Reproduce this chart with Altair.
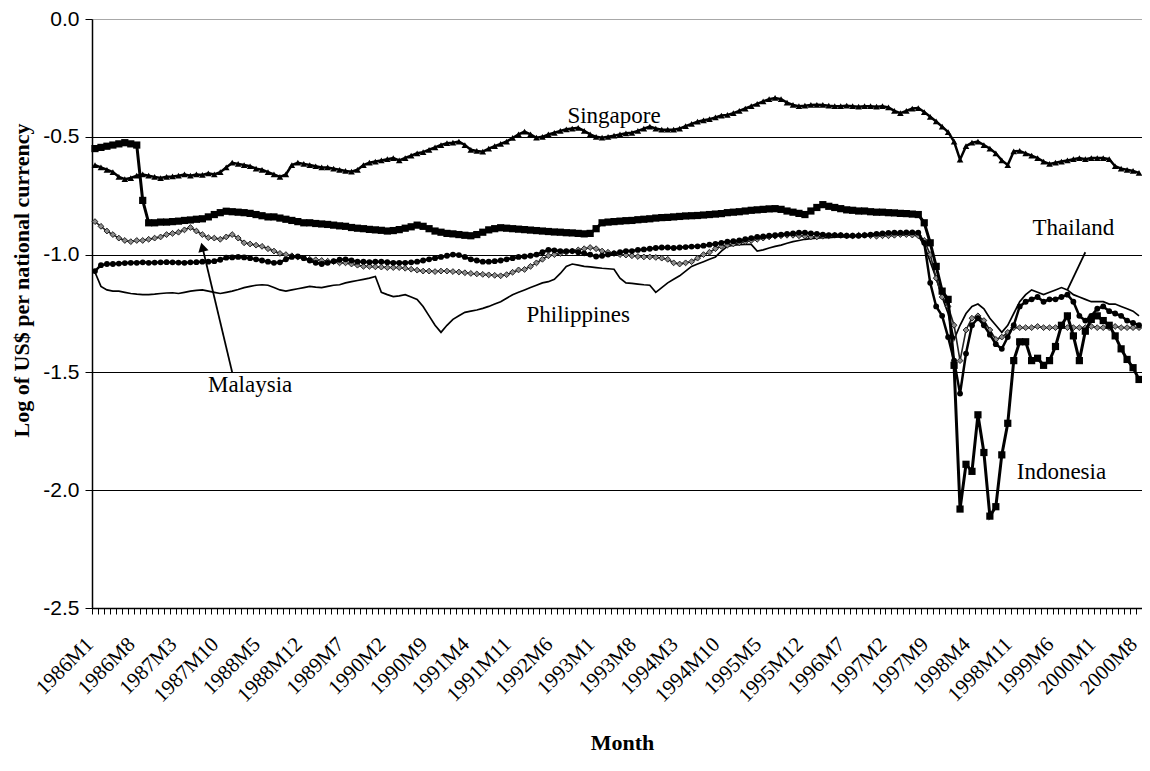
import altair as alt
import pandas as pd

# ---------------- data ----------------
MONTHS = [f"{y}M{m}" for y in range(1986, 2001) for m in range(1, 13)][:176]

TICK_LABELS = ["1986M1", "1986M8", "1987M3", "1987M10", "1988M5", "1988M12",
               "1989M7", "1990M2", "1990M9", "1991M4", "1991M11", "1992M6",
               "1993M1", "1993M8", "1994M3", "1994M10", "1995M5", "1995M12",
               "1996M7", "1997M2", "1997M9", "1998M4", "1998M11", "1999M6",
               "2000M1", "2000M8"]

Y_TICKS = [0.0, -0.5, -1.0, -1.5, -2.0, -2.5]

SINGAPORE = [
    -0.62, -0.63, -0.64, -0.65, -0.67, -0.68, -0.675, -0.665, -0.66, -0.665, -0.67, -0.675,
    -0.67, -0.668, -0.665, -0.66, -0.665, -0.66, -0.662, -0.655, -0.66, -0.65, -0.63, -0.61,
    -0.615, -0.62, -0.625, -0.635, -0.64, -0.65, -0.66, -0.67, -0.66, -0.62, -0.61, -0.615,
    -0.62, -0.625, -0.63, -0.63, -0.635, -0.64, -0.645, -0.648, -0.64, -0.62, -0.61, -0.605,
    -0.60, -0.595, -0.59, -0.60, -0.59, -0.58, -0.57, -0.565, -0.555, -0.545, -0.535, -0.527,
    -0.525, -0.52, -0.535, -0.555, -0.56, -0.563, -0.55, -0.54, -0.53, -0.52, -0.505, -0.49,
    -0.478, -0.49, -0.504, -0.50, -0.49, -0.483, -0.475, -0.468, -0.465, -0.462, -0.475, -0.49,
    -0.50, -0.504, -0.50, -0.495, -0.49, -0.485, -0.483, -0.475, -0.465, -0.457, -0.465, -0.47,
    -0.47, -0.47, -0.465, -0.455, -0.445, -0.436, -0.43, -0.425, -0.418, -0.41, -0.407, -0.40,
    -0.39, -0.38, -0.37, -0.36, -0.35, -0.34, -0.335, -0.34, -0.355, -0.365, -0.37, -0.368,
    -0.365, -0.364, -0.365, -0.368, -0.37, -0.37, -0.368, -0.37, -0.372, -0.37, -0.37, -0.372,
    -0.37, -0.375, -0.39, -0.40, -0.39, -0.38, -0.378, -0.395, -0.415, -0.435, -0.457, -0.48,
    -0.52, -0.597, -0.54, -0.525, -0.52, -0.535, -0.55, -0.57, -0.60, -0.62, -0.562, -0.56,
    -0.57, -0.58, -0.59, -0.605, -0.615, -0.61, -0.605, -0.60, -0.595, -0.59, -0.595, -0.59,
    -0.59, -0.59, -0.595, -0.625, -0.635, -0.64, -0.645, -0.653,
]

INDONESIA = [
    -0.55, -0.545, -0.54, -0.535, -0.53, -0.525, -0.53, -0.535, -0.77, -0.865, -0.865, -0.862,
    -0.862, -0.86, -0.858, -0.855, -0.853, -0.85, -0.848, -0.84, -0.83, -0.822, -0.816, -0.818,
    -0.82, -0.822, -0.825, -0.83, -0.835, -0.84, -0.84, -0.845, -0.85, -0.855, -0.86, -0.865,
    -0.865, -0.868, -0.87, -0.872, -0.875, -0.878, -0.88, -0.885, -0.888, -0.89, -0.893, -0.895,
    -0.897, -0.90, -0.898, -0.894, -0.888, -0.882, -0.875, -0.88, -0.89, -0.90, -0.905, -0.91,
    -0.912, -0.915, -0.918, -0.92, -0.915, -0.905, -0.895, -0.89, -0.886, -0.888, -0.89, -0.892,
    -0.894, -0.896, -0.898, -0.90, -0.902, -0.904, -0.905, -0.907, -0.908, -0.91, -0.912, -0.91,
    -0.89, -0.865, -0.862, -0.86, -0.858, -0.856, -0.855, -0.852, -0.85, -0.848, -0.845, -0.843,
    -0.842, -0.84, -0.838, -0.836, -0.835, -0.834, -0.832, -0.83, -0.828, -0.826, -0.822, -0.82,
    -0.818, -0.815, -0.812, -0.81, -0.808, -0.806, -0.805, -0.808, -0.815, -0.82, -0.825, -0.83,
    -0.815, -0.80, -0.788, -0.795, -0.80, -0.805, -0.81, -0.812, -0.815, -0.815, -0.818, -0.82,
    -0.82, -0.822, -0.823, -0.825, -0.826, -0.828, -0.83, -0.865, -0.95, -1.05, -1.155, -1.19,
    -1.47, -2.08, -1.89, -1.92, -1.68, -1.84, -2.11, -2.07, -1.85, -1.716, -1.45, -1.37,
    -1.37, -1.45, -1.44, -1.47, -1.45, -1.39, -1.30, -1.26, -1.345, -1.45, -1.325, -1.275,
    -1.26, -1.28, -1.30, -1.345, -1.40, -1.445, -1.48, -1.53,
]

THAILAND = [
    -1.07, -1.045, -1.04, -1.04, -1.038, -1.036, -1.035, -1.035, -1.033, -1.035, -1.034, -1.033,
    -1.032, -1.033, -1.034, -1.035, -1.033, -1.032, -1.03, -1.03, -1.028, -1.022, -1.013, -1.012,
    -1.01, -1.012, -1.015, -1.02, -1.025, -1.03, -1.035, -1.033, -1.02, -1.01, -1.008, -1.015,
    -1.025, -1.035, -1.04, -1.035, -1.028, -1.022, -1.02, -1.025, -1.03, -1.03, -1.032, -1.03,
    -1.03, -1.032, -1.035, -1.035, -1.035, -1.033, -1.03, -1.025, -1.02, -1.015, -1.01, -1.005,
    -1.00, -1.002, -1.01, -1.02, -1.025, -1.03, -1.03, -1.028, -1.025, -1.02, -1.015, -1.01,
    -1.008, -1.005, -1.00, -0.99, -0.98, -0.982, -0.985, -0.985, -0.985, -0.99, -0.995, -1.00,
    -1.008, -1.005, -1.00, -0.995, -0.99, -0.985, -0.985, -0.98, -0.978, -0.975, -0.972, -0.97,
    -0.97, -0.972, -0.97, -0.968, -0.966, -0.965, -0.962, -0.958, -0.955, -0.95, -0.945, -0.943,
    -0.94, -0.935, -0.93, -0.925, -0.923, -0.92, -0.918, -0.915, -0.912, -0.91, -0.907, -0.907,
    -0.91, -0.912, -0.915, -0.917, -0.917, -0.918, -0.92, -0.92, -0.92, -0.918, -0.915, -0.912,
    -0.91, -0.908, -0.907, -0.907, -0.906, -0.906, -0.907, -0.95, -1.12, -1.22, -1.26, -1.35,
    -1.45, -1.59, -1.42, -1.30, -1.27, -1.30, -1.34, -1.38, -1.40, -1.35, -1.30, -1.22,
    -1.20, -1.19, -1.18, -1.20, -1.19, -1.19, -1.18, -1.17, -1.20, -1.26, -1.28, -1.26,
    -1.23, -1.22, -1.24, -1.25, -1.26, -1.28, -1.29, -1.30,
]

MALAYSIA = [
    -0.86, -0.88, -0.90, -0.915, -0.93, -0.94, -0.945, -0.94, -0.94, -0.935, -0.93, -0.925,
    -0.915, -0.91, -0.905, -0.895, -0.885, -0.90, -0.915, -0.928, -0.93, -0.935, -0.925, -0.915,
    -0.93, -0.95, -0.955, -0.96, -0.965, -0.975, -0.985, -0.995, -1.00, -1.005, -1.01, -1.015,
    -1.02, -1.022, -1.025, -1.028, -1.03, -1.035, -1.035, -1.04, -1.045, -1.05, -1.05, -1.052,
    -1.053, -1.055, -1.055, -1.055, -1.058, -1.062, -1.066, -1.07, -1.07, -1.072, -1.07, -1.07,
    -1.072, -1.074, -1.077, -1.08, -1.082, -1.084, -1.086, -1.088, -1.09, -1.085, -1.075, -1.065,
    -1.063, -1.05, -1.035, -1.02, -1.005, -1.00, -0.995, -0.99, -0.985, -0.98, -0.975, -0.97,
    -0.975, -0.985, -0.99, -0.995, -1.00, -1.002, -1.005, -1.008, -1.01, -1.01, -1.012, -1.015,
    -1.02, -1.035, -1.04, -1.035, -1.03, -1.015, -1.00, -0.99, -0.975, -0.965, -0.96, -0.955,
    -0.95, -0.945, -0.94, -0.935, -0.93, -0.925, -0.922, -0.92, -0.918, -0.918, -0.92, -0.922,
    -0.925, -0.925, -0.922, -0.92, -0.918, -0.918, -0.92, -0.92, -0.918, -0.918, -0.92, -0.922,
    -0.92, -0.92, -0.918, -0.915, -0.915, -0.917, -0.92, -0.94, -1.00, -1.10, -1.18, -1.22,
    -1.30, -1.45, -1.32, -1.27, -1.26, -1.28, -1.32, -1.36, -1.35, -1.33, -1.31, -1.31,
    -1.31, -1.31, -1.305, -1.31, -1.31, -1.31, -1.305, -1.31, -1.31, -1.31, -1.31, -1.305,
    -1.31, -1.31, -1.31, -1.305, -1.31, -1.31, -1.31, -1.31,
]

PHILIPPINES = [
    -1.075, -1.135, -1.15, -1.155, -1.155, -1.16, -1.165, -1.168, -1.17, -1.17, -1.168, -1.165,
    -1.163, -1.162, -1.165, -1.16, -1.155, -1.152, -1.15, -1.155, -1.16, -1.165, -1.16, -1.155,
    -1.148, -1.14, -1.135, -1.13, -1.128, -1.13, -1.14, -1.15, -1.155, -1.15, -1.145, -1.14,
    -1.135, -1.138, -1.14, -1.135, -1.13, -1.128, -1.12, -1.115, -1.11, -1.105, -1.10, -1.093,
    -1.16, -1.17, -1.178, -1.175, -1.17, -1.18, -1.19, -1.22, -1.26, -1.30, -1.33, -1.30,
    -1.275, -1.26, -1.245, -1.24, -1.235, -1.228, -1.22, -1.21, -1.20, -1.185, -1.17, -1.16,
    -1.15, -1.14, -1.13, -1.12, -1.115, -1.105, -1.08, -1.05, -1.04, -1.045, -1.05, -1.052,
    -1.055, -1.058, -1.06, -1.062, -1.10, -1.12, -1.122, -1.125, -1.128, -1.13, -1.16, -1.14,
    -1.12, -1.105, -1.09, -1.07, -1.05, -1.04, -1.03, -1.02, -1.01, -0.985, -0.965, -0.96,
    -0.958, -0.957, -0.957, -0.985, -0.98, -0.972, -0.965, -0.96, -0.952, -0.945, -0.94, -0.935,
    -0.932, -0.93, -0.928, -0.928, -0.926, -0.925, -0.925, -0.924, -0.922, -0.922, -0.92, -0.92,
    -0.92, -0.918, -0.918, -0.916, -0.916, -0.916, -0.92, -0.96, -1.03, -1.10, -1.18, -1.25,
    -1.36, -1.30, -1.25, -1.22, -1.21, -1.23, -1.27, -1.30, -1.33, -1.30, -1.25, -1.20,
    -1.17, -1.15, -1.16, -1.17, -1.16, -1.15, -1.14, -1.15, -1.17, -1.18, -1.19, -1.20,
    -1.20, -1.20, -1.21, -1.21, -1.22, -1.23, -1.24, -1.26,
]

SERIES = {
    "Philippines": PHILIPPINES,
    "Malaysia": MALAYSIA,
    "Thailand": THAILAND,
    "Indonesia": INDONESIA,
    "Singapore": SINGAPORE,
}

# annotation labels (text, month, value)
LABEL_TEXT = ["Singapore", "Philippines", "Malaysia", "Thailand", "Indonesia"]
LABEL_MONTH = ["1993M4", "1992M10", "1988M3", "1999M9", "1999M7"]
LABEL_VALUE = [-0.41, -1.256, -1.553, -0.887, -1.923]

# pointer lines (from label to series)
ARROW_FROM_MONTH = ["1987M12", "1999M11"]
ARROW_FROM_VALUE = [-1.50, -0.99]
ARROW_TO_MONTH = ["1987M7", "1999M8"]
ARROW_TO_VALUE = [-0.968, -1.15]

# ---------------- frames ----------------
rows = []
for name, vals in SERIES.items():
    for m, v in zip(MONTHS, vals):
        rows.append({"month": m, "series": name, "value": v})
df = pd.DataFrame(rows)

labels_df = pd.DataFrame({"text": LABEL_TEXT, "month": LABEL_MONTH, "value": LABEL_VALUE})
arrows_df = pd.DataFrame({"m1": ARROW_FROM_MONTH, "v1": ARROW_FROM_VALUE,
                          "m2": ARROW_TO_MONTH, "v2": ARROW_TO_VALUE})
head_df = arrows_df.iloc[[0]]

tick_list = ",".join(f"'{t}'" for t in TICK_LABELS)

x_scale = alt.Scale(type="band", domain=MONTHS, paddingInner=0, paddingOuter=0)
y_scale = alt.Scale(domain=[-2.5, 0.0], nice=False, zero=False)

x_axis = alt.Axis(
    title="Month", values=MONTHS,
    labelExpr=f"indexof([{tick_list}], datum.value) >= 0 ? datum.value : ''",
    labelAngle=-45, labelAlign="right", labelBaseline="top",
    labelFont="Liberation Serif", labelFontSize=21, labelColor="black",
    labelPadding=19, labelOffset=-13, labelOverlap=False, labelBound=False, labelFlush=False,
    tickBand="extent", tickSize=6, tickColor="black", tickWidth=1,
    domainColor="black", domainWidth=1.5, grid=False,
    titleFont="Liberation Serif", titleFontSize=22, titleFontWeight="bold", titleColor="black",
    titleX=530, titleY=141, titleAlign="center", titleBaseline="alphabetic",
)

y_axis = alt.Axis(
    title="Log of US$ per national currency", values=Y_TICKS,
    labelExpr="datum.value == 0 ? '0.0' : '-' + format(-datum.value, '.1f')",
    labelFont="Liberation Sans", labelFontSize=21, labelColor="black", labelPadding=6,
    tickSize=7, tickColor="black", domainColor="black", domainWidth=1.5,
    grid=True, gridColor={"condition": {"test": "datum.value === 0", "value": "#a8a8a8"}, "value": "black"},
    gridWidth=1,
    titleFont="Liberation Serif", titleFontSize=22, titleFontWeight="bold", titleColor="black",
    titleX=-71, titleY=261, titleAlign="center", titleBaseline="middle", titleAngle=-90,
)

X = alt.X("month:O", scale=x_scale, axis=x_axis, bandPosition=0.5)
Y = alt.Y("value:Q", scale=y_scale, axis=y_axis)

base = alt.Chart(df)


def sel(name):
    return base.transform_filter(alt.datum.series == name)


layers = []
# Philippines: thin line, no markers
layers.append(sel("Philippines").mark_line(color="black", strokeWidth=1.7).encode(x=X, y=Y))
# Malaysia: small diamonds
layers.append(sel("Malaysia").mark_line(color="#222222", strokeWidth=1.6).encode(x=X, y=Y))
layers.append(sel("Malaysia").mark_point(shape="diamond", size=34, filled=True, fill="#8c8c8c",
                                         stroke="#111111", strokeWidth=0.9, opacity=1).encode(x=X, y=Y))
# Thailand: circles
layers.append(sel("Thailand").mark_line(color="black", strokeWidth=2.5).encode(x=X, y=Y))
layers.append(sel("Thailand").mark_point(shape="circle", size=34, filled=True, color="black",
                                         opacity=1).encode(x=X, y=Y))
# Indonesia: squares
layers.append(sel("Indonesia").mark_line(color="black", strokeWidth=3).encode(x=X, y=Y))
layers.append(sel("Indonesia").mark_point(shape="square", size=52, filled=True, color="black",
                                          opacity=1).encode(x=X, y=Y))
# Singapore: triangles
layers.append(sel("Singapore").mark_line(color="black", strokeWidth=2.5).encode(x=X, y=Y))
layers.append(sel("Singapore").mark_point(shape="triangle-up", size=44, filled=True, color="black",
                                          opacity=1).encode(x=X, y=Y))

# label texts
layers.append(alt.Chart(labels_df).mark_text(font="Liberation Serif", fontSize=23, color="black",
                                             align="center", baseline="middle").encode(
    x=alt.X("month:O", scale=x_scale, bandPosition=0.5),
    y=alt.Y("value:Q", scale=y_scale), text="text:N"))

# pointer lines
layers.append(alt.Chart(arrows_df).mark_rule(color="black", strokeWidth=1.8).encode(
    x=alt.X("m1:O", scale=x_scale, bandPosition=0.5), y=alt.Y("v1:Q", scale=y_scale),
    x2="m2:O", y2="v2:Q"))
layers.append(alt.Chart(head_df).mark_point(shape="triangle-up", size=110, filled=True, color="black",
                                            opacity=1, angle=346).encode(
    x=alt.X("m2:O", scale=x_scale, bandPosition=0.5), y=alt.Y("v2:Q", scale=y_scale)))

chart = alt.layer(*layers).properties(
    width=1050, height=589,
    padding={"left": 84, "top": 11, "right": 0, "bottom": 150},
    autosize=alt.AutoSizeParams(type="none"),
    background="white",
).configure_view(stroke="#b0b0b0", strokeWidth=1)

chart.save("out.html", embed_options={"renderer": "svg", "actions": False})
